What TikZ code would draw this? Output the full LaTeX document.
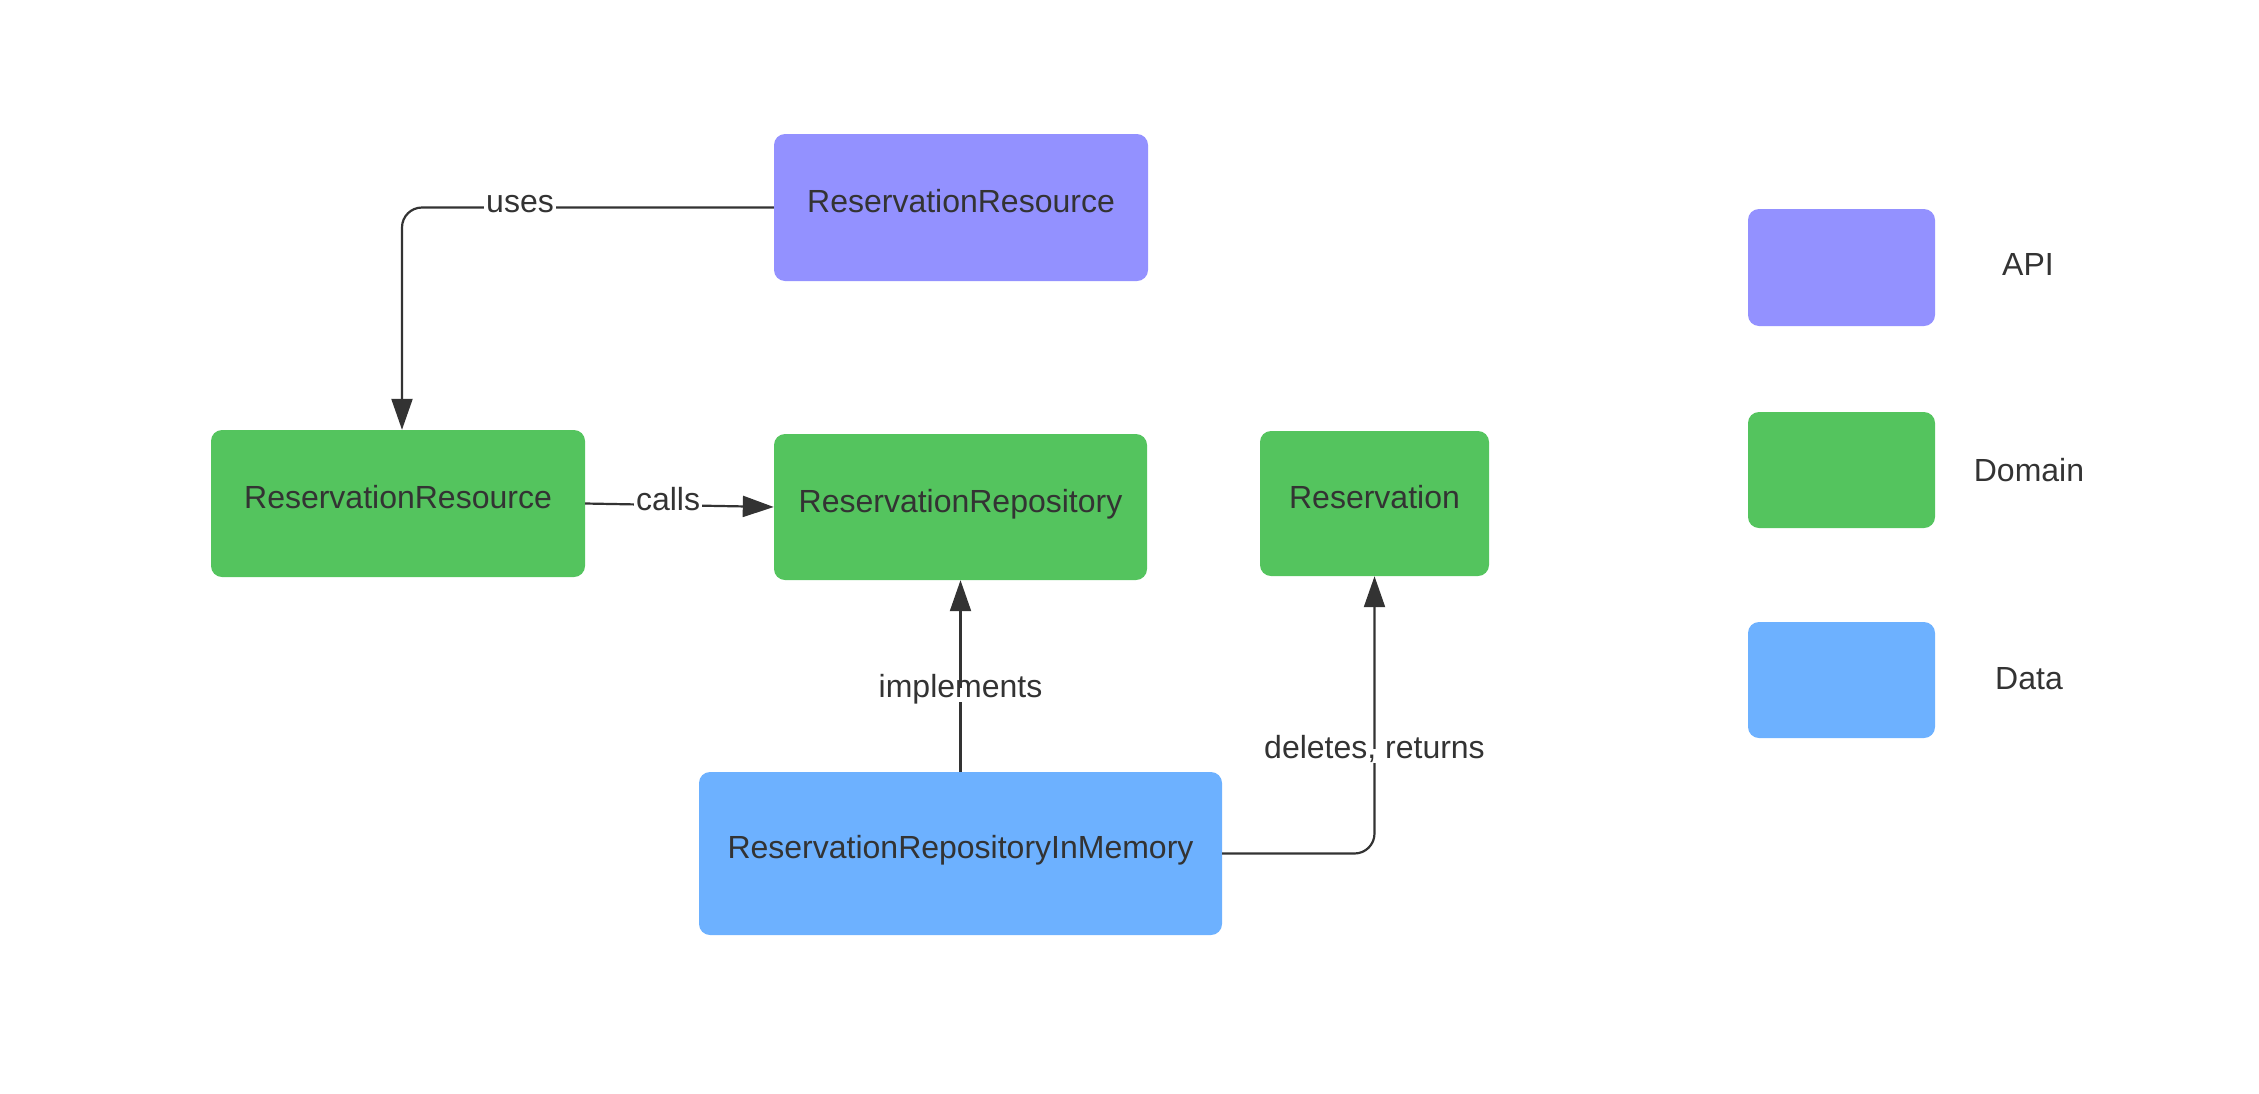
\documentclass[tikz,border=0pt]{standalone}
\usepackage{fontspec}
\setmainfont{Liberation Sans}
\usetikzlibrary{arrows.meta,calc}
\definecolor{apicol}{HTML}{9391FF}
\definecolor{domcol}{HTML}{54C45E}
\definecolor{datacol}{HTML}{6DB1FF}
\definecolor{ink}{HTML}{333333}
\begin{document}
\begin{tikzpicture}[x=1pt,y=-1pt,
  box/.style={rounded corners=11pt, inner sep=0pt, text=ink,
    font=\fontsize{32}{38}\selectfont, text height=1.28em, text depth=0.25em},
  apibox/.style={box, fill=apicol},
  dombox/.style={box, fill=domcol},
  databox/.style={box, fill=datacol},
  conn/.style={draw=ink, line width=2.2pt, -{Triangle[length=31pt,width=21pt]}},
  lbl/.style={fill=white, text=ink, inner sep=2pt,
    font=\fontsize{32}{38}\selectfont, text height=0.7em, text depth=0.22em},
  leg/.style={text=ink, inner sep=0pt, font=\fontsize{32}{38}\selectfont}
]
\useasboundingbox (0,0) rectangle (2259,1093);

% main boxes
\node[apibox, minimum width=374pt, minimum height=147pt] (api) at (961,207.5) {ReservationResource};
\node[dombox, minimum width=374pt, minimum height=147pt] (rres) at (398,503.5) {ReservationResource};
\node[dombox, minimum width=373pt, minimum height=146pt] (repo) at (960.5,507) {ReservationRepository};
\node[dombox, minimum width=229pt, minimum height=145pt] (resv) at (1374.5,503.5) {Reservation};
\node[databox, minimum width=523pt, minimum height=163pt] (mem) at (960.5,853.5) {ReservationRepositoryInMemory};

% connectors
\draw[conn, rounded corners=20pt] (api.west) -| ($(rres.north)+(4,0)$);
\draw[conn] (rres.east) -- (repo.west);
\draw[conn] (mem.north) -- (repo.south);
\draw[conn, rounded corners=20pt] (mem.east) -| (resv.south);

% connector labels
\node[lbl] (luses) at (520,210) {uses};
\node[lbl] (lcalls) at (668,508) {calls};
\node[lbl] (limpl) at (960.5,695) {implements};
\node[lbl] (ldel) at (1374.5,756) {deletes, returns};

% legend
\node[apibox, minimum width=187pt, minimum height=117pt] (legapi) at (1841.5,267.5) {};
\node[dombox, minimum width=187pt, minimum height=116pt] (legdom) at (1841.5,470) {};
\node[databox, minimum width=187pt, minimum height=116pt] (legdata) at (1841.5,680) {};
\node[leg] (tapi) at (2028,264) {API};
\node[leg] (tdom) at (2029,470) {Domain};
\node[leg] (tdata) at (2029,679) {Data};
\end{tikzpicture}
\end{document}
